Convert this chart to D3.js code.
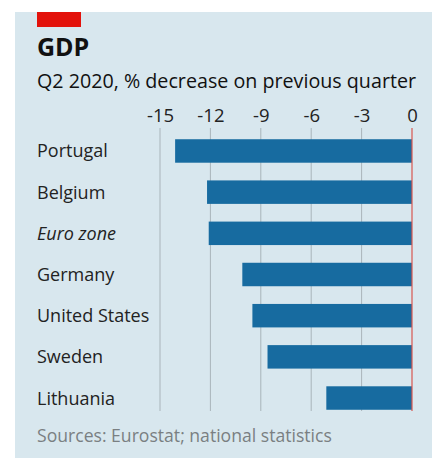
<!DOCTYPE html>
<html lang="en">
<head>
    <meta charset="UTF-8">
    <title>GDP Q2 2020</title>
    <script src="https://d3js.org/d3.v7.min.js"></script>
    <style>
        body { margin: 0; background: #fff; font-family: "Open Sans", sans-serif; }
        .tick text { font-size: 18.5px; fill: #222; }
    </style>
</head>
<body>
    <svg width="432" height="458"></svg>
    <script>
        // chart data
        const countries = ["Portugal", "Belgium", "Euro zone", "Germany", "United States", "Sweden", "Lithuania"];
        const changes = [-14.1, -12.2, -12.1, -10.1, -9.5, -8.6, -5.1];
        const tickValues = [-15, -12, -9, -6, -3, 0];

        const data = countries.map((c, i) => ({ name: c, value: changes[i] }));

        const svg = d3.select("svg");

        // panel background
        svg.append("rect")
           .attr("x", 15).attr("y", 12)
           .attr("width", 417).attr("height", 446)
           .attr("fill", "#d8e7ee");

        // red tag
        svg.append("rect")
           .attr("x", 37).attr("y", 12)
           .attr("width", 44).attr("height", 15)
           .attr("fill", "#e3120b");

        svg.append("text")
           .attr("x", 37).attr("y", 56)
           .attr("font-size", 25).attr("font-weight", "bold")
           .attr("fill", "#111")
           .text("GDP");

        svg.append("text")
           .attr("x", 37).attr("y", 88)
           .attr("font-size", 19.7)
           .attr("fill", "#111")
           .text("Q2 2020, % decrease on previous quarter");

        const x = d3.scaleLinear().domain([-15, 0]).range([160, 412]);
        const y = d3.scaleBand().domain(countries).range([131, 418]).paddingInner(0.43).paddingOuter(0.2);

        // gridlines
        svg.append("g")
           .selectAll("line")
           .data(tickValues.filter(d => d !== 0))
           .join("line")
           .attr("x1", d => x(d)).attr("x2", d => x(d))
           .attr("y1", 128).attr("y2", 411)
           .attr("stroke", "#a9b4ba")
           .attr("stroke-width", 1);

        // top axis labels
        const axis = svg.append("g")
           .attr("transform", "translate(0,122)")
           .call(d3.axisTop(x).tickValues(tickValues).tickFormat(d => String(d)).tickSize(0).tickPadding(0));
        axis.select(".domain").remove();
        axis.selectAll(".tick text").attr("font-family", "Open Sans, sans-serif");

        // bars
        svg.append("g")
           .selectAll("rect")
           .data(data)
           .join("rect")
           .attr("x", d => x(d.value))
           .attr("y", d => y(d.name))
           .attr("width", d => x(0) - x(d.value))
           .attr("height", y.bandwidth())
           .attr("fill", "#176ba0");

        // zero line
        svg.append("line")
           .attr("x1", x(0)).attr("x2", x(0))
           .attr("y1", 128).attr("y2", 411)
           .attr("stroke", "#d9574f")
           .attr("stroke-width", 1.2);

        // category labels
        svg.append("g")
           .selectAll("text")
           .data(data)
           .join("text")
           .attr("x", 37)
           .attr("y", d => y(d.name) + y.bandwidth() / 2)
           .attr("dy", "0.36em")
           .attr("font-size", 18)
           .attr("font-style", d => d.name === "Euro zone" ? "italic" : "normal")
           .attr("fill", "#222")
           .text(d => d.name);

        svg.append("text")
           .attr("x", 37).attr("y", 442)
           .attr("font-size", 17.6)
           .attr("fill", "#7a7f82")
           .text("Sources: Eurostat; national statistics");
    </script>
</body>
</html>
